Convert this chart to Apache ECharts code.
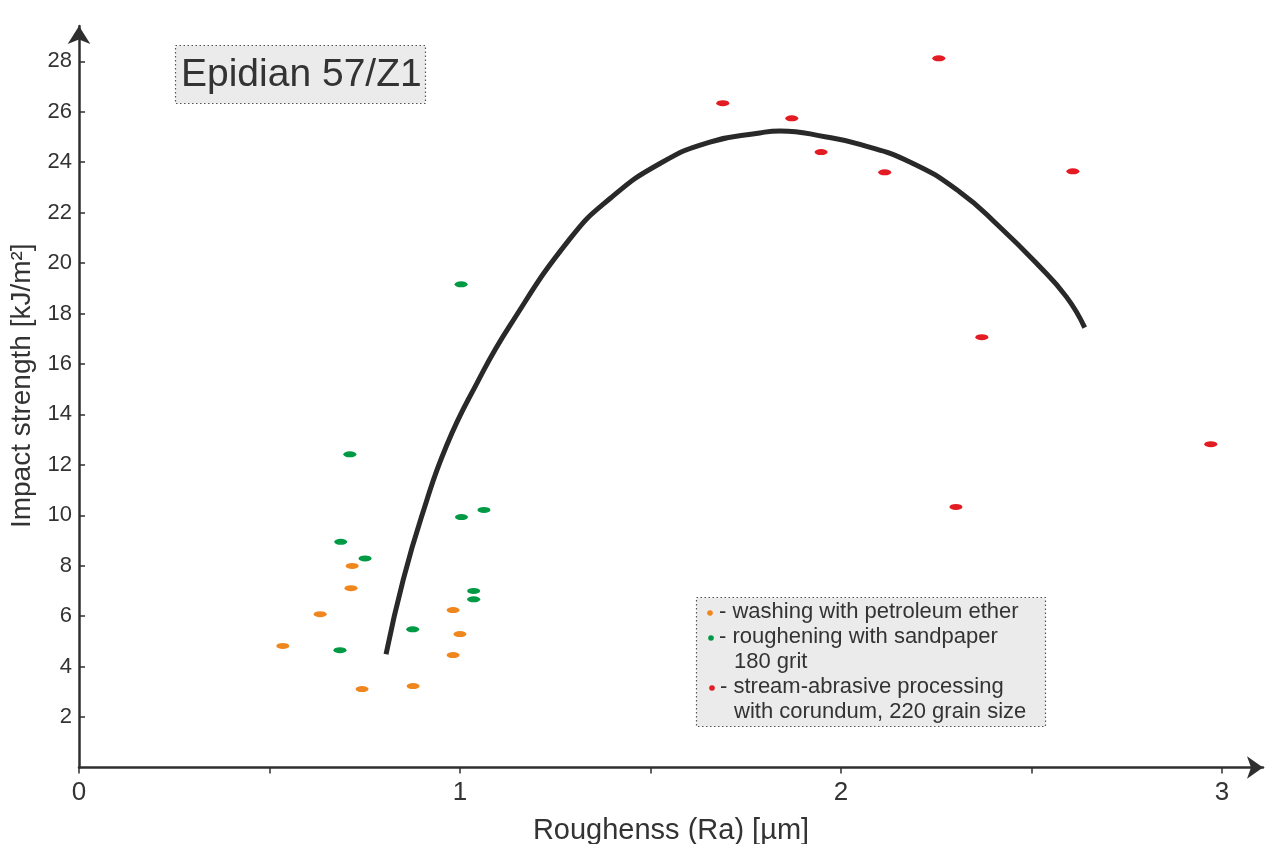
<!DOCTYPE html>
<html lang="en">
<head>
    <meta charset="UTF-8">
    <title>Epidian 57/Z1</title>
    <script src="https://cdn.jsdelivr.net/npm/echarts@6/dist/echarts.min.js"></script>
    <style>
        html, body { margin: 0; padding: 0; background: #fff; }
        #chart { width: 1271px; height: 844px; }
    </style>
</head>
<body>
<div id="chart"></div>
<script>
    // washing with petroleum ether  [Ra, impact strength]
    const washing = [
        [0.535, 4.82], [0.633, 6.08], [0.717, 7.99], [0.714, 7.11], [0.743, 3.11],
        [0.877, 3.23], [0.982, 6.24], [1.0, 5.29], [0.982, 4.46]
    ];
    // roughening with sandpaper 180 grit
    const sandpaper = [
        [0.711, 12.42], [0.687, 8.95], [0.751, 8.29], [0.685, 4.65], [0.876, 5.48],
        [1.004, 9.93], [1.063, 10.21], [1.036, 7.0], [1.036, 6.67], [1.003, 19.16]
    ];
    // stream-abrasive processing with corundum
    const corundum = [
        [1.690, 26.34], [1.871, 25.74], [1.948, 24.40], [2.257, 28.12], [2.115, 23.60],
        [2.609, 23.64], [2.370, 17.06], [2.971, 12.82], [2.302, 10.33]
    ];
    // trend curve
    const trend = [
        [0.806, 4.49], [0.851, 7.44], [0.904, 10.17], [0.965, 12.77], [1.044, 15.22],
        [1.131, 17.52], [1.289, 20.97], [1.394, 22.56], [1.525, 23.95],
        [1.656, 24.80], [1.787, 25.16], [1.840, 25.24], [1.962, 25.00], [2.050, 24.71],
        [2.181, 24.01], [2.312, 22.82], [2.417, 21.43], [2.514, 19.98], [2.592, 18.66],
        [2.640, 17.44]
    ];
    const xTicks = [0, 0.5, 1, 1.5, 2, 2.5, 3];
    const xLabels = [0, 1, 2, 3];
    const yTicks = [2, 4, 6, 8, 10, 12, 14, 16, 18, 20, 22, 24, 26, 28];

    const ORANGE = '#f0861e';
    const GREEN = '#009a44';
    const RED = '#e31b23';
    const INK = '#2f2f2f';
    const FONT = 'Liberation Sans, Arial, sans-serif';

    let myChart = echarts.init(document.getElementById('chart'), null, {renderer: 'canvas'});

    let option = {
        backgroundColor: '#fff',
        textStyle: {fontFamily: FONT, color: '#333'},
        animation: false,
        grid: {left: 79, right: 8, top: 26, bottom: 76.5, outerBoundsMode: 'none', containLabel: false},
        xAxis: {
            type: 'value',
            min: 0,
            max: 3.108,
            name: 'Roughenss (Ra) [µm]',
            nameLocation: 'middle',
            nameGap: 49,
            nameTextStyle: {fontSize: 29, color: '#333'},
            splitLine: {show: false},
            axisLine: {
                lineStyle: {color: INK, width: 2.5},
                symbol: ['none', 'arrow'],
                symbolSize: [17, 16]
            },
            axisTick: {customValues: xTicks, length: 6, lineStyle: {color: INK, width: 1.5}},
            axisLabel: {customValues: xLabels, fontSize: 26, color: '#333', margin: 12}
        },
        yAxis: {
            type: 'value',
            min: 0,
            max: 29.4,
            name: 'Impact strength [kJ/m²]',
            nameLocation: 'middle',
            nameGap: 42,
            nameTextStyle: {fontSize: 28, color: '#333', padding: [0, 0, 0, 22]},
            splitLine: {show: false},
            axisLine: {
                lineStyle: {color: INK, width: 2.5},
                symbol: ['none', 'arrow'],
                symbolSize: [17, 18]
            },
            axisTick: {customValues: yTicks, inside: true, length: 6, lineStyle: {color: INK, width: 1.5}},
            axisLabel: {customValues: yTicks, fontSize: 22, color: '#333', margin: 7}
        },
        series: [
            {
                name: 'trend',
                type: 'line',
                data: trend,
                smooth: 0.5,
                showSymbol: false,
                lineStyle: {color: '#292929', width: 5},
                z: 2
            },
            {
                name: 'washing with petroleum ether',
                type: 'scatter',
                data: washing,
                symbol: 'circle',
                symbolSize: [13, 6],
                itemStyle: {color: ORANGE, opacity: 1},
                z: 3
            },
            {
                name: 'roughening with sandpaper 180 grit',
                type: 'scatter',
                data: sandpaper,
                symbol: 'circle',
                symbolSize: [13, 6],
                itemStyle: {color: GREEN, opacity: 1},
                z: 3
            },
            {
                name: 'stream-abrasive processing with corundum, 220 grain size',
                type: 'scatter',
                data: corundum,
                symbol: 'circle',
                symbolSize: [13, 6],
                itemStyle: {color: RED, opacity: 1},
                z: 3
            }
        ],
        graphic: [
            // title box
            {
                type: 'rect',
                shape: {x: 175.5, y: 45.5, width: 250, height: 58},
                style: {fill: '#ebebeb', stroke: '#555', lineWidth: 1.2, lineDash: [1.5, 2.5]},
                z: 10
            },
            {
                type: 'text',
                x: 181, y: 75,
                style: {text: 'Epidian 57/Z1', fontSize: 39, fill: '#333', fontFamily: FONT, verticalAlign: 'middle'},
                z: 11
            },
            // legend box
            {
                type: 'rect',
                shape: {x: 696.5, y: 597.5, width: 349, height: 129},
                style: {fill: '#ebebeb', stroke: '#555', lineWidth: 1.2, lineDash: [1.5, 2.5]},
                z: 10
            },
            {type: 'circle', shape: {cx: 710, cy: 613, r: 2.8}, style: {fill: ORANGE}, z: 11},
            {type: 'circle', shape: {cx: 711, cy: 638, r: 2.8}, style: {fill: GREEN}, z: 11},
            {type: 'circle', shape: {cx: 712, cy: 688, r: 2.8}, style: {fill: RED}, z: 11},
            {
                type: 'text', x: 719, y: 612,
                style: {text: '- washing with petroleum ether', fontSize: 22, fill: '#333', fontFamily: FONT, verticalAlign: 'middle'},
                z: 11
            },
            {
                type: 'text', x: 719, y: 637,
                style: {text: '- roughening with sandpaper', fontSize: 22, fill: '#333', fontFamily: FONT, verticalAlign: 'middle'},
                z: 11
            },
            {
                type: 'text', x: 734, y: 662,
                style: {text: '180 grit', fontSize: 22, fill: '#333', fontFamily: FONT, verticalAlign: 'middle'},
                z: 11
            },
            {
                type: 'text', x: 720, y: 687,
                style: {text: '- stream-abrasive processing', fontSize: 22, fill: '#333', fontFamily: FONT, verticalAlign: 'middle'},
                z: 11
            },
            {
                type: 'text', x: 734, y: 712,
                style: {text: 'with corundum, 220 grain size', fontSize: 22, fill: '#333', fontFamily: FONT, verticalAlign: 'middle'},
                z: 11
            }
        ]
    };
    myChart.setOption(option);
</script>
</body>
</html>
